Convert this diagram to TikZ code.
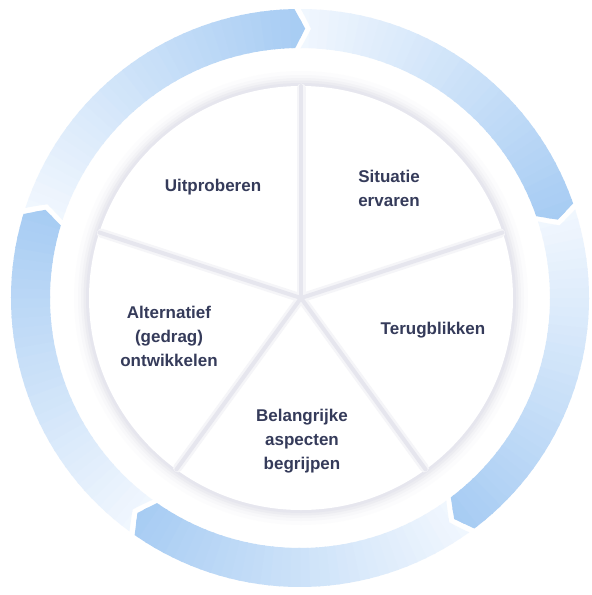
\documentclass[tikz,border=0pt]{standalone}
\usepackage{fontspec}
\newfontfamily\lblfont{Liberation Sans}
\definecolor{ringdark}{HTML}{A7CCF3}
\definecolor{ringlight}{HTML}{F1F7FE}
\definecolor{txt}{HTML}{353B5A}
\definecolor{sep}{HTML}{E6E6EE}
\definecolor{glow}{HTML}{C8C8D6}
\tikzset{
  lbltext/.style={font=\lblfont\bfseries\fontsize{17}{24}\selectfont, text=txt, align=center, inner sep=0pt},
  sepline/.style={line width=4pt, color=sep, line cap=round},
  sepglow/.style={line width=9pt, color=sep!40!white, line cap=round}
}
\begin{document}
\begin{tikzpicture}[x=1pt,y=1pt]
\useasboundingbox (0,0) rectangle (592,-595);
\fill[white] (0,0) rectangle (592,-595);
% ---------- outer ring of five arrows ----------
\def\Ro{289}\def\Ri{250}\def\Rm{269.5}
\def\gA{1.1}\def\dd{2.2}\def\ee{1.3}
\coordinate (ringc) at (300,-298);
\foreach \T in {162,90,18,-54,-126} {
  \begin{scope}[shift={(ringc)}]
    \pgfmathsetmacro\ta{\T+\gA-\ee}
    \pgfmathsetmacro\tn{\T+\gA-\ee-\dd}
    \pgfmathsetmacro\ha{\T-72+\gA}
    \pgfmathsetmacro\hn{\T-72+\gA-\dd}
    \clip (\ta:\Ro) -- (\tn:\Rm) -- (\ta:\Ri)
      arc[start angle=\ta, end angle=\ha, radius=\Ri pt]
      -- (\hn:\Rm) -- (\ha:\Ro)
      arc[start angle=\ha, end angle=\ta, radius=\Ro pt] -- cycle;
    \foreach \k in {0,...,39} {
      \pgfmathsetmacro\aa{\T+4-\k*2}
      \pgfmathsetmacro\ab{\aa-2.4}
      \pgfmathtruncatemacro\pp{max(0,min(100,(\T-(\aa-1))/72*100))}
      \fill[color=ringdark!\pp!ringlight] (\aa:\Ri-3) -- (\aa:\Ro+3)
        arc[start angle=\aa, end angle=\ab, radius=\Ro pt+3pt]
        -- (\ab:\Ri-3)
        arc[start angle=\ab, end angle=\aa, radius=\Ri pt-3pt] -- cycle;
    }
  \end{scope}
}
% ---------- central pie ----------
\coordinate (piec) at (301,-298);
\begin{scope}[shift={(piec)}]
  \foreach \r/\o in {227/0.04, 223/0.07, 220/0.10, 217.5/0.15} {
    \fill[glow, opacity=\o] (0,0) circle[radius=\r pt];
  }
  \fill[sep] (0,0) circle[radius=215pt];
  \fill[white] (0,0) circle[radius=212pt];
  \foreach \s in {90,18,-54,-126,162} {
    \draw[sepglow] (0,0) -- (\s:210);
  }
  \foreach \s in {90,18,-54,-126,162} {
    \draw[sepline] (0,0) -- (\s:212);
  }
\end{scope}
% ---------- labels ----------
\node[lbltext] (uit) at (213,-187) {Uitproberen};
\node[lbltext] (sit) at (389,-188) {Situatie\\ervaren};
\node[lbltext] (ter) at (433,-330) {Terugblikken};
\node[lbltext] (bel) at (302,-441) {Belangrijke\\aspecten\\begrijpen};
\node[lbltext] (alt) at (169,-336) {Alternatief\\(gedrag)\\ontwikkelen};
\end{tikzpicture}
\end{document}
